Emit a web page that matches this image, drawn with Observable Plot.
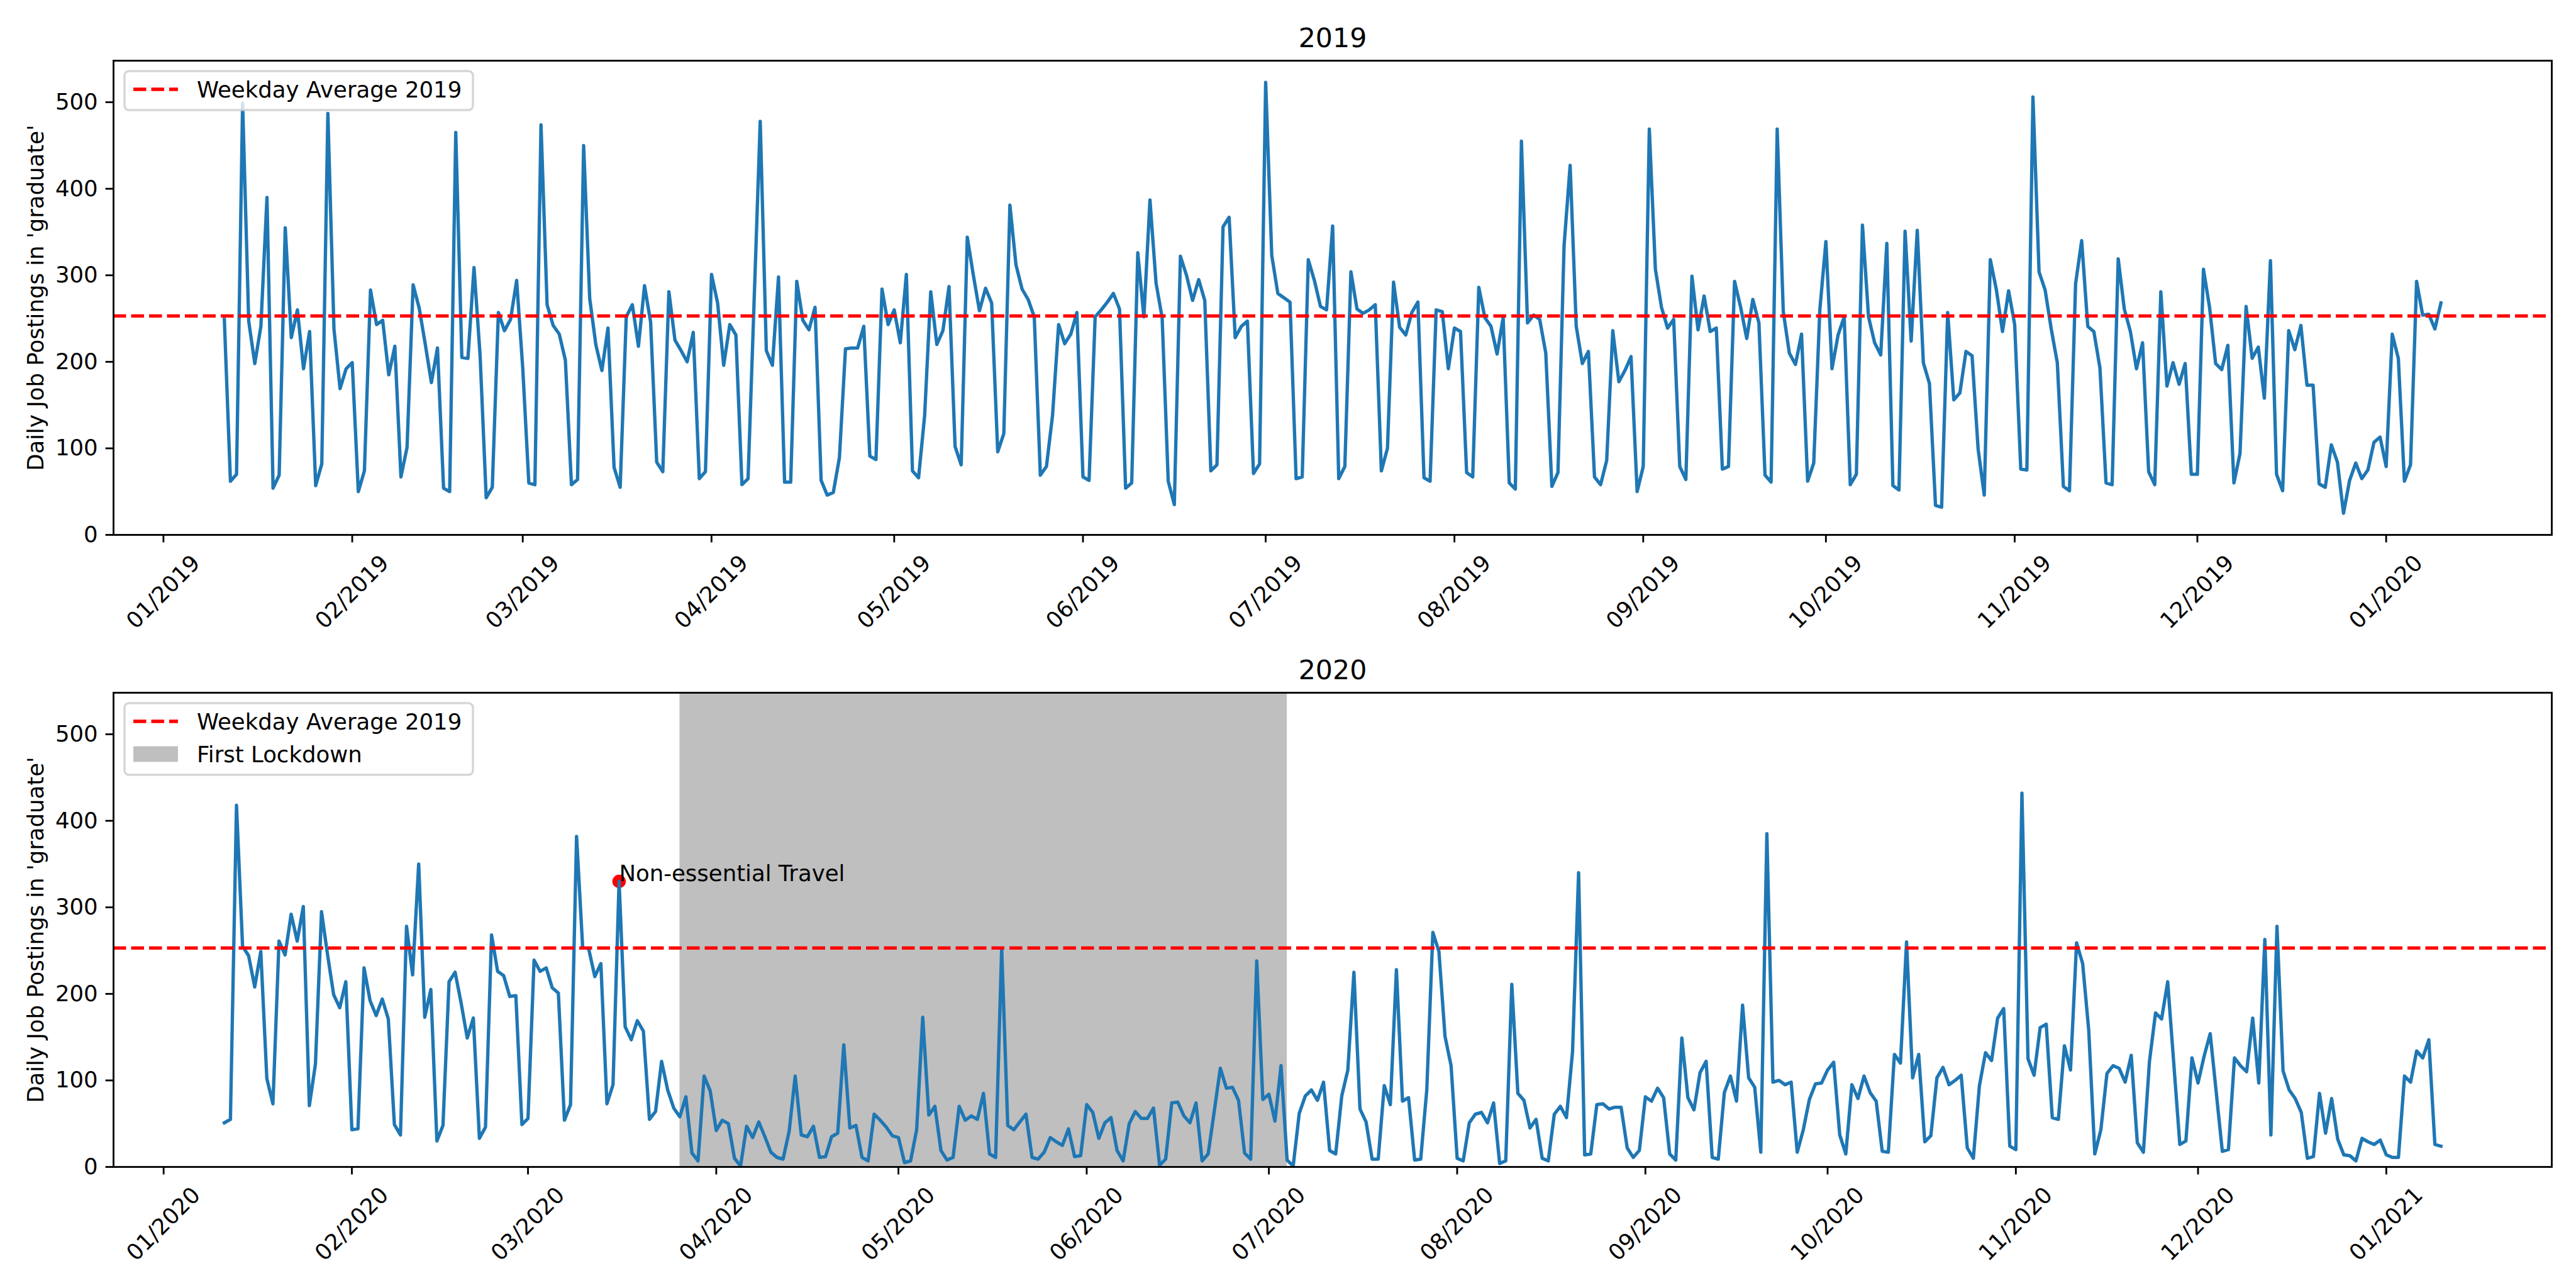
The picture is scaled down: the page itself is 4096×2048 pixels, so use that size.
<!DOCTYPE html>
<html>
<head>
<meta charset="utf-8">
<script src="https://cdn.jsdelivr.net/npm/d3@7"></script>
<script src="https://cdn.jsdelivr.net/npm/@observablehq/plot@0.6"></script>
<style>
  html, body { margin: 0; padding: 0; background: #fff; }
  #wrap { position: relative; width: 4096px; height: 2048px; overflow: hidden; background: #fff; }
  #wrap > div > svg { display: block; }
  #legend { position: absolute; left: 0; top: 0; pointer-events: none; }
  #legend text { font-family: "DejaVu Sans"; font-size: 35.5px; fill: #000; }
</style>
</head>
<body>
<div id="wrap">
  <div id="c1"></div>
  <div id="c2"></div>
  <svg id="legend" width="4096" height="2048" xmlns="http://www.w3.org/2000/svg"></svg>
</div>
<script>
// ---------------- data ----------------
const start2019 = "2019-01-11";
const values2019 = [
  249, 62, 70, 499, 247, 198, 241, 390, 54, 69,
  355, 228, 260, 192, 235, 57, 82, 487, 238, 169,
  192, 199, 50, 74, 283, 243, 248, 185, 218, 67,
  101, 289, 262, 220, 176, 216, 54, 50, 465, 205,
  204, 309, 207, 43, 55, 257, 236, 249, 294, 193,
  60, 58, 474, 266, 242, 232, 202, 58, 64, 450,
  273, 220, 190, 239, 78, 55, 252, 266, 218, 288,
  246, 84, 73, 281, 225, 213, 200, 234, 65, 73,
  301, 268, 196, 243, 231, 58, 65, 271, 478, 213,
  196, 298, 61, 61, 293, 248, 237, 263, 63, 46,
  49, 89, 215, 216, 216, 241, 91, 87, 284, 243,
  260, 222, 301, 74, 66, 138, 281, 220, 236, 287,
  102, 81, 344, 300, 259, 285, 268, 96, 117, 381,
  312, 284, 272, 252, 69, 79, 138, 243, 221, 232,
  257, 67, 63, 252, 260, 269, 279, 261, 54, 60,
  326, 252, 387, 291, 251, 62, 35, 322, 300, 271,
  295, 271, 74, 81, 356, 367, 228, 241, 247, 71,
  82, 523, 323, 279, 274, 269, 65, 67, 318, 294,
  264, 260, 357, 65, 79, 304, 261, 256, 260, 266,
  74, 100, 292, 240, 231, 257, 269, 66, 62, 260,
  258, 192, 239, 235, 72, 67, 286, 251, 241, 209,
  251, 60, 53, 455, 245, 254, 249, 210, 56, 72,
  334, 427, 241, 198, 212, 67, 58, 86, 236, 177,
  190, 206, 50, 79, 469, 307, 263, 239, 249, 79,
  64, 299, 237, 276, 235, 239, 76, 79, 293, 263,
  227, 272, 245, 69, 61, 469, 258, 210, 197, 232,
  62, 83, 260, 339, 192, 231, 252, 58, 70, 358,
  252, 222, 208, 337, 57, 52, 351, 224, 352, 199,
  175, 34, 32, 257, 156, 164, 212, 207, 99, 46,
  318, 283, 235, 282, 243, 76, 75, 506, 304, 283,
  238, 199, 56, 51, 290, 340, 241, 235, 193, 60,
  58, 319, 261, 235, 192, 222, 73, 58, 281, 172,
  199, 174, 198, 70, 70, 307, 263, 198, 191, 219,
  60, 94, 264, 204, 217, 158, 317, 70, 51, 236,
  214, 242, 173, 173, 59, 55, 104, 84, 25, 63,
  83, 65, 75, 107, 113, 79, 232, 204, 62, 81,
  293, 254, 255, 238, 268
];

const start2020 = "2020-01-11";
const values2020 = [
  51, 55, 418, 255, 244, 208, 249, 102, 73, 261,
  245, 292, 261, 301, 71, 119, 295, 245, 199, 184,
  214, 43, 44, 230, 192, 175, 194, 171, 49, 37,
  278, 222, 350, 173, 205, 30, 48, 214, 225, 189,
  149, 172, 33, 46, 268, 226, 221, 197, 198, 49,
  56, 239, 226, 230, 207, 201, 54, 72, 382, 254,
  252, 220, 235, 73, 95, 330, 162, 147, 169, 157,
  55, 64, 122, 89, 68, 58, 81, 16, 7, 105,
  88, 42, 54, 50, 10, 1, 47, 34, 52, 35,
  17, 11, 9, 41, 105, 37, 35, 47, 11, 12,
  35, 39, 141, 45, 48, 11, 7, 61, 54, 46,
  36, 34, 5, 7, 43, 173, 60, 70, 19, 8,
  11, 70, 54, 59, 55, 85, 15, 11, 252, 48,
  43, 52, 61, 11, 9, 17, 34, 29, 25, 44,
  12, 13, 72, 63, 33, 51, 57, 19, 7, 50,
  64, 56, 56, 68, 2, 9, 74, 75, 59, 51,
  74, 7, 15, 64, 114, 91, 92, 77, 16, 9,
  238, 78, 84, 53, 117, 8, 1, 62, 82, 89,
  77, 98, 19, 15, 82, 112, 225, 67, 52, 9,
  9, 94, 72, 228, 76, 80, 8, 9, 89, 271,
  249, 151, 117, 10, 7, 51, 61, 63, 51, 74,
  4, 7, 211, 85, 77, 45, 55, 10, 7, 61,
  70, 57, 133, 340, 14, 15, 72, 73, 67, 69,
  69, 22, 11, 19, 81, 76, 91, 80, 15, 8,
  149, 80, 66, 109, 122, 11, 9, 86, 105, 76,
  187, 103, 92, 17, 385, 98, 100, 95, 98, 17,
  43, 78, 96, 97, 112, 121, 37, 15, 95, 79,
  105, 86, 76, 18, 17, 130, 120, 260, 103, 130,
  29, 36, 103, 115, 95, 100, 106, 22, 10, 94,
  132, 123, 172, 183, 24, 20, 432, 125, 106, 161,
  165, 57, 55, 140, 112, 259, 235, 158, 15, 43,
  108, 117, 114, 98, 129, 28, 17, 122, 178, 171,
  214, 120, 26, 30, 126, 97, 128, 154, 86, 18,
  20, 126, 117, 110, 172, 97, 263, 37, 278, 111,
  89, 79, 63, 10, 12, 85, 39, 79, 32, 14,
  13, 7, 33, 29, 26, 31, 14, 11, 11, 105,
  98, 134, 126, 147, 26, 24
];

const weekdayAverage2019 = 253;
const averageLabel = "Weekday Average 2019";
const lockdown = [{label: "First Lockdown", start: "2020-03-26", end: "2020-07-04"}];
const annotations2020 = [{date: "2020-03-16", value: 330, label: "Non-essential Travel"}];
const yTicks = [0, 100, 200, 300, 400, 500];
const yMax = 548;
const yLabel = "Daily Job Postings in 'graduate'";
const titles = ["2019", "2020"];

// ---------------- drawing ----------------
const FONT = "DejaVu Sans";
const fmt = d3.utcFormat("%m/%Y");

function rowsFrom(start, values) {
  const s = new Date(start);
  return values.map((v, i) => ({date: d3.utcDay.offset(s, i), value: v}));
}

function chart({title, rows, marginTop, marginBottom, before = [], after = []}) {
  const first = rows[0].date, last = rows[rows.length - 1].date;
  const span = last - first;
  const domain = [new Date(+first - 0.05 * span), new Date(+last + 0.05 * span)];
  const months = d3.utcMonth.range(d3.utcMonth.ceil(domain[0]), domain[1]);
  return Plot.plot({
    width: 4096,
    height: 1024,
    marginLeft: 180,
    marginRight: 39,
    marginTop,
    marginBottom,
    x: {type: "utc", domain},
    y: {domain: [0, yMax]},
    style: {fontFamily: FONT, fontSize: "35.5px", background: "white", color: "black", overflow: "visible"},
    marks: [
      ...before,
      Plot.line(rows, {x: "date", y: "value", stroke: "#1f77b4", strokeWidth: 5.33, strokeLinejoin: "round", strokeLinecap: "square"}),
      Plot.ruleY([weekdayAverage2019], {stroke: "red", strokeWidth: 5.33, strokeDasharray: "20.5,8"}),
      ...after,
      Plot.frame({stroke: "black", strokeWidth: 2.84}),
      Plot.axisY({ticks: yTicks, tickSize: 12.4, tickPadding: 12.4, strokeWidth: 2.84, label: null, fontSize: 35.5}),
      Plot.axisX({ticks: months, tickSize: 12.4, strokeWidth: 2.84, tickFormat: () => "", label: null}),
      Plot.text(months, {x: d => d, text: d => fmt(d), frameAnchor: "bottom", dy: 91, rotate: -45,
        textAnchor: "middle", lineAnchor: "middle", fontSize: 35.5, fill: "black"}),
      Plot.text([yLabel], {text: d => d, frameAnchor: "left", dx: -123, rotate: -90,
        textAnchor: "middle", lineAnchor: "middle", fontSize: 35.5, fill: "black"}),
      Plot.text([title], {text: d => d, frameAnchor: "top", dy: -21.3, lineAnchor: "bottom",
        fontSize: 42.7, fill: "black"})
    ]
  });
}

const rows2019 = rowsFrom(start2019, values2019);
const rows2020 = rowsFrom(start2020, values2020);

document.getElementById("c1").append(chart({
  title: titles[0], rows: rows2019, marginTop: 96, marginBottom: 174
}));

document.getElementById("c2").append(chart({
  title: titles[1], rows: rows2020, marginTop: 77, marginBottom: 193,
  before: [
    Plot.rect(lockdown, {x1: d => new Date(d.start), x2: d => new Date(d.end), fill: "#bfbfbf"}),
    Plot.dot(annotations2020, {x: d => new Date(d.date), y: "value", r: 10.7, fill: "red", stroke: "none"})
  ],
  after: [
    Plot.text(annotations2020, {x: d => new Date(d.date), y: "value", text: "label", textAnchor: "start",
      lineAnchor: "bottom", fontSize: 35.5, fill: "black"})
  ]
}));

// ---------------- legends (matplotlib-style boxes) ----------------
const lg = d3.select("#legend");
function legend(top, items) {
  const rowStep = 52;
  const h = 62 + rowStep * (items.length - 1);
  lg.append("rect").attr("x", 198).attr("y", top).attr("width", 554).attr("height", h)
    .attr("rx", 7).attr("fill", "white").attr("fill-opacity", 0.8)
    .attr("stroke", "#cccccc").attr("stroke-opacity", 0.8).attr("stroke-width", 3.5);
  items.forEach((it, i) => {
    const cy = top + 29 + rowStep * i;
    if (it.type === "line") {
      lg.append("line").attr("x1", 212).attr("x2", 283).attr("y1", cy).attr("y2", cy)
        .attr("stroke", "red").attr("stroke-width", 5.33).attr("stroke-dasharray", "20.5,8");
    } else {
      lg.append("rect").attr("x", 212).attr("y", cy - 12.4).attr("width", 71).attr("height", 24.8)
        .attr("fill", "#bfbfbf");
    }
    lg.append("text").attr("x", 313).attr("y", cy + 12.9).text(it.label);
  });
}
legend(113, [{type: "line", label: averageLabel}]);
legend(1118, [{type: "line", label: averageLabel}, {type: "patch", label: lockdown[0].label}]);
</script>
</body>
</html>
